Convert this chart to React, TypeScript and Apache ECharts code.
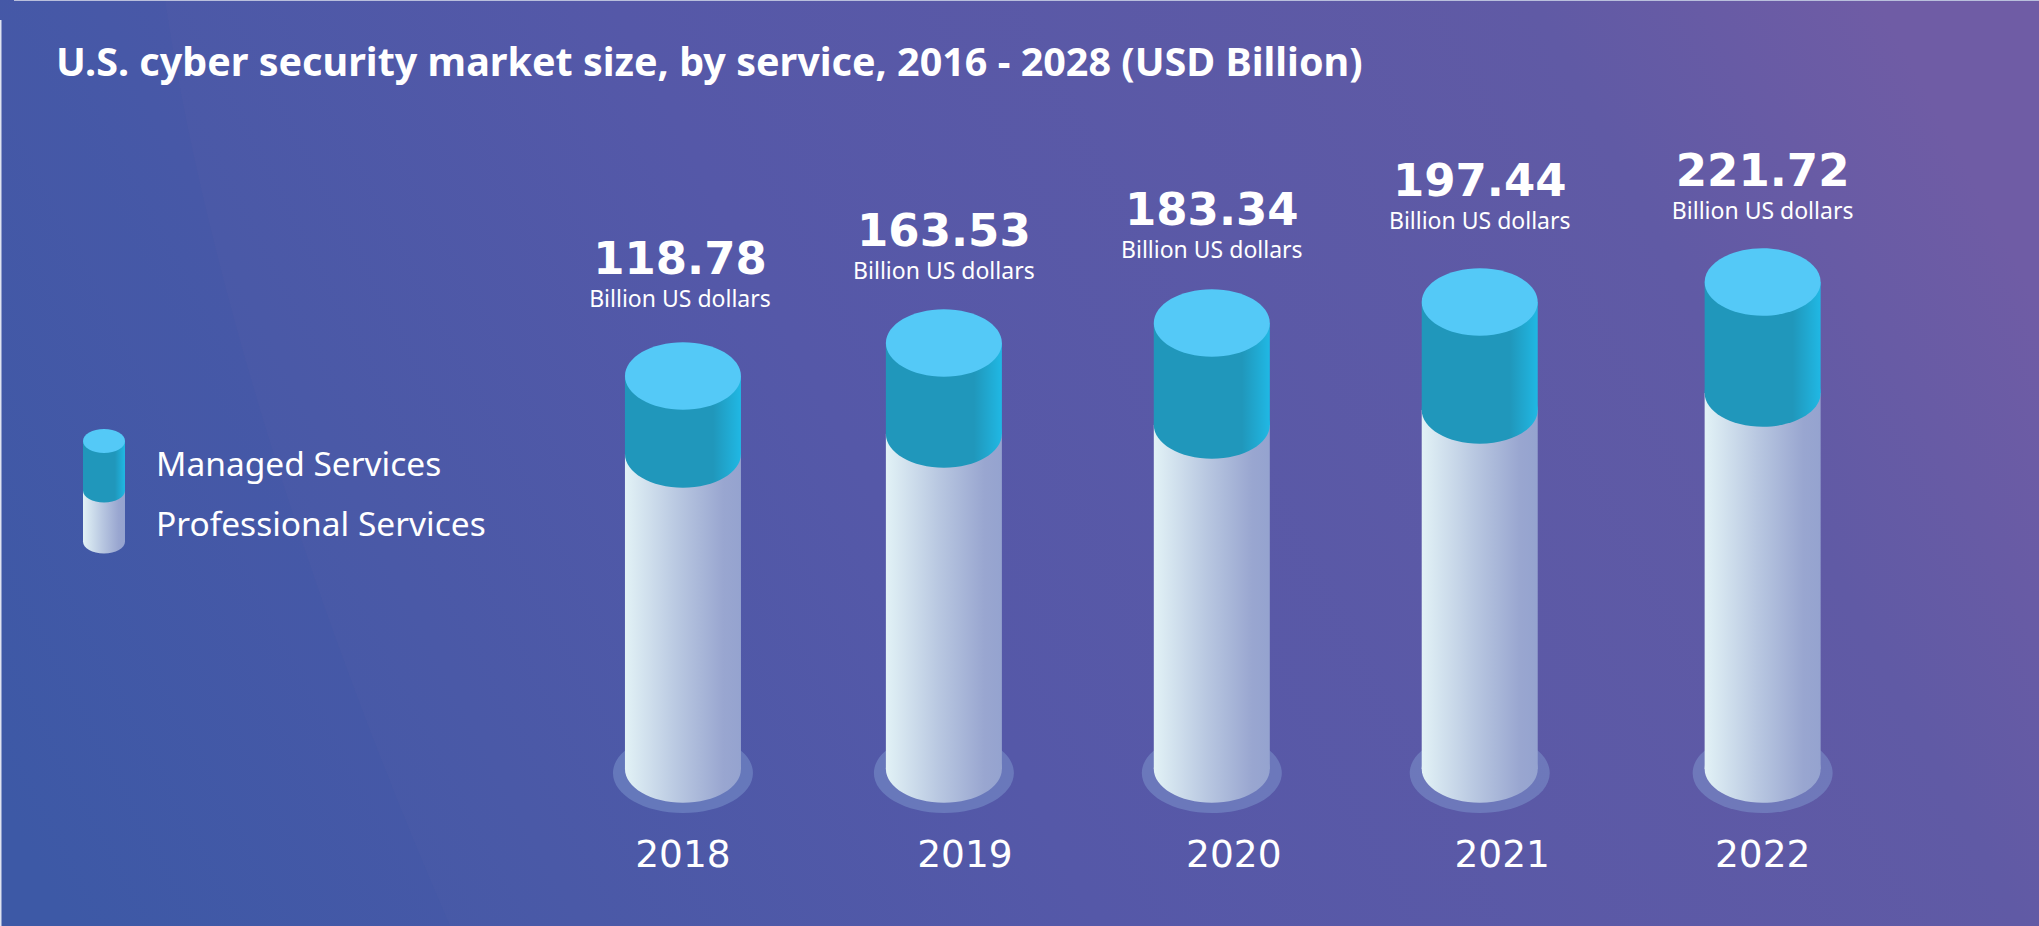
import React, { useEffect, useRef } from "react";
import * as echarts from "echarts";

const years = ["2018", "2019", "2020", "2021", "2022"];
const totals = ["118.78", "163.53", "183.34", "197.44", "221.72"];
// Drawn heights of the two stacked cylinder parts (the artwork is not to scale with the totals).
const professionalLevel = [315, 335, 344, 359, 376];
const managedLevel = [78, 91, 102, 108, 111];

const seriesNames = ["Managed Services", "Professional Services"];
const unitLabel = "Billion US dollars";
const titleText = "U.S. cyber security market size, by service, 2016 - 2028 (USD Billion)";

// Hand-placed layout of the artwork
const barNudge = [0, -9, -11, -13, 0];
const yearNudge = [0, 12, 11, 9.5, 0];
const labelLift = [44, 39, 40, 48, 38];

const W = 2039;
const H = 926;
const RX = 58;
const RY = 33.7;

const FONT = "'Noto Sans', sans-serif";

const grad = (stops: [number, string][]) =>
  new echarts.graphic.LinearGradient(0, 0, 1, 0, stops.map(([offset, color]) => ({ offset, color })));
const profFill = () =>
  grad([
    [0, "#e2f2f6"],
    [0.45, "#b9c8e1"],
    [0.85, "#99a6d0"],
    [1, "#95a3cf"],
  ]);
const managedFill = () =>
  grad([
    [0, "#2097bb"],
    [0.76, "#2097bb"],
    [1, "#20b8e4"],
  ]);
const TOP = "#54c9f7";

echarts.graphic.registerShape(
  "bgBand",
  echarts.graphic.extendPath("M0 0 L165 0 C 210 300 330 650 450 926 L0 926 Z", {})
);

function App() {
  const ref = useRef<HTMLDivElement>(null);
  useEffect(() => {
    document.body.style.margin = "0";
    const chart = echarts.init(ref.current!, null, { renderer: "svg", width: W, height: H });

    const renderProfessional = (params: any, api: any) => {
      const i = api.value(0);
      const base = api.coord([i, 0]);
      const top = api.coord([i, api.value(1)]);
      const cx = base[0] + barNudge[i];
      return {
        type: "group",
        children: [
          {
            type: "ellipse",
            shape: { cx, cy: base[1] + 4, rx: 70, ry: 40 },
            style: { fill: "rgba(135,165,215,0.42)" },
          },
          {
            type: "rect",
            shape: { x: cx - RX, y: top[1], width: RX * 2, height: base[1] - top[1] },
            style: { fill: profFill() },
          },
          {
            type: "ellipse",
            shape: { cx, cy: base[1], rx: RX, ry: RY },
            style: { fill: profFill() },
          },
        ],
      };
    };

    const renderManaged = (params: any, api: any) => {
      const i = api.value(0);
      const low = api.coord([i, api.value(1)]);
      const high = api.coord([i, api.value(2)]);
      const cx = low[0] + barNudge[i];
      const edge = high[1] - RY;
      return {
        type: "group",
        children: [
          {
            type: "rect",
            shape: { x: cx - RX, y: high[1], width: RX * 2, height: low[1] - high[1] },
            style: { fill: managedFill() },
          },
          {
            type: "ellipse",
            shape: { cx, cy: low[1], rx: RX, ry: RY },
            style: { fill: managedFill() },
          },
          {
            type: "ellipse",
            shape: { cx, cy: high[1], rx: RX, ry: RY },
            style: { fill: TOP },
          },
          {
            type: "text",
            style: {
              x: cx - 3 * (i === 0 ? 1 : 0),
              y: edge - labelLift[i] - 40,
              text: totals[i],
              fill: "#fff",
              font: "bold 45px 'DejaVu Sans', sans-serif",
              align: "center",
              verticalAlign: "middle",
            },
          },
          {
            type: "text",
            style: {
              x: cx - 3 * (i === 0 ? 1 : 0),
              y: edge - labelLift[i],
              text: unitLabel,
              fill: "#fff",
              font: `400 23px ${FONT}`,
              align: "center",
              verticalAlign: "middle",
            },
          },
        ],
      };
    };

    const legendX = 104;
    const legendRx = 21;
    const legendRy = 12;
    const yearFont = "'DejaVu Sans', sans-serif";

    chart.setOption({
      animation: false,
      title: {
        text: titleText,
        left: 51,
        top: 36,
        textStyle: { color: "#fff", fontFamily: FONT, fontWeight: 700, fontSize: 39.5 },
      },
      legend: {
        orient: "vertical",
        left: 146,
        top: 437,
        itemGap: 18,
        itemWidth: 0,
        itemHeight: 0,
        data: seriesNames,
        itemStyle: { opacity: 0 },
        selectedMode: false,
        textStyle: { color: "#fff", fontFamily: FONT, fontSize: 33.5, height: 42, lineHeight: 42 },
      },
      grid: { left: 548, right: 141.4, top: 69, bottom: 157 },
      xAxis: {
        type: "category",
        data: years,
        axisLine: { show: false },
        axisTick: { show: false },
        axisLabel: {
          margin: 66,
          color: "#fff",
          fontFamily: yearFont,
          fontSize: 37.5,
          formatter: (value: string) => `{y${years.indexOf(value)}|${value}}`,
          rich: Object.fromEntries(
            yearNudge.map((n, i) => [
              `y${i}`,
              { color: "#fff", fontFamily: yearFont, fontSize: 37.5, padding: [0, 0, 0, n * 2] },
            ])
          ),
        },
      },
      yAxis: { type: "value", min: 0, max: 700, show: false, splitLine: { show: false } },
      series: [
        {
          name: "Professional Services",
          type: "custom",
          clip: false,
          renderItem: renderProfessional,
          encode: { x: 0, y: 1 },
          data: years.map((_, i) => [i, professionalLevel[i]]),
          itemStyle: { color: "#b6c5e0" },
        },
        {
          name: "Managed Services",
          type: "custom",
          clip: false,
          renderItem: renderManaged,
          encode: { x: 0, y: [1, 2] },
          data: years.map((_, i) => [i, professionalLevel[i], professionalLevel[i] + managedLevel[i]]),
          itemStyle: { color: "#2097bb" },
        },
      ],
      graphic: [
        {
          type: "rect",
          z: -10,
          silent: true,
          shape: { x: 0, y: 0, width: W, height: H },
          style: {
            fill: new echarts.graphic.LinearGradient(
              0,
              800,
              1800,
              -150,
              [
                { offset: 0, color: "#3f5aa6" },
                { offset: 0.45, color: "#5558a8" },
                { offset: 0.85, color: "#605aa5" },
                { offset: 1, color: "#6f5ca5" },
              ],
              true
            ),
          },
        },
        {
          type: "bgBand",
          z: -9,
          silent: true,
          style: { fill: "rgba(40,90,165,0.07)" },
        },
        {
          type: "rect",
          z: -8,
          silent: true,
          shape: { x: 0, y: 20, width: 1.5, height: H - 20 },
          style: { fill: "#dfe3f0" },
        },
        {
          type: "rect",
          z: -8,
          silent: true,
          shape: { x: 14, y: 0, width: W - 14, height: 1 },
          style: { fill: "#b9bfdc" },
        },
        // Legend cylinder
        { type: "rect", z: 5, shape: { x: legendX - legendRx, y: 490.6, width: legendRx * 2, height: 51 }, style: { fill: profFill() } },
        { type: "ellipse", z: 5, shape: { cx: legendX, cy: 541.5, rx: legendRx, ry: legendRy }, style: { fill: profFill() } },
        { type: "rect", z: 6, shape: { x: legendX - legendRx, y: 441, width: legendRx * 2, height: 49.6 }, style: { fill: managedFill() } },
        { type: "ellipse", z: 6, shape: { cx: legendX, cy: 490.6, rx: legendRx, ry: legendRy }, style: { fill: managedFill() } },
        { type: "ellipse", z: 7, shape: { cx: legendX, cy: 441, rx: legendRx, ry: legendRy }, style: { fill: TOP } },
      ],
    });
    return () => chart.dispose();
  }, []);
  return <div ref={ref} style={{ width: W, height: H }} />;
}

export default App;
